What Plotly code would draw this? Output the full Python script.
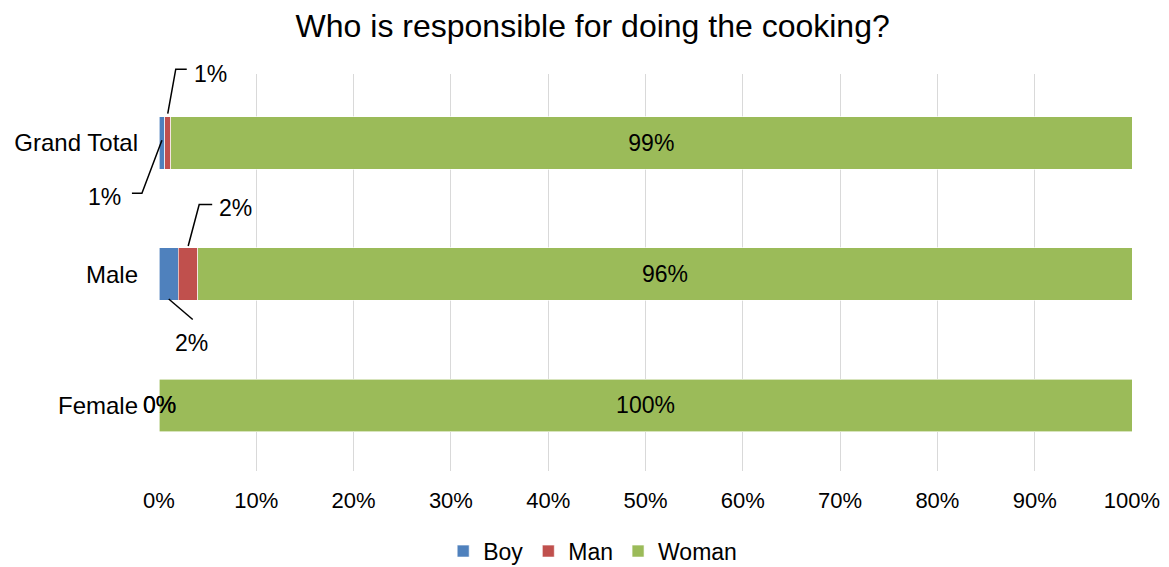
import plotly.graph_objects as go

# Share of respondents by who does the cooking
categories = ["Grand Total", "Male", "Female"]
boy = [0.006, 0.02, 0.0]
man = [0.006, 0.02, 0.0]
woman = [0.988, 0.96, 1.0]
tick_values = [i / 10 for i in range(11)]
tick_labels = [f"{i * 10}%" for i in range(11)]

colors = {"Boy": "#4F81BD", "Man": "#C0504D", "Woman": "#9BBB59"}
FONT = "Arial, 'Liberation Sans', sans-serif"

# plot area geometry (pixels)
W, H = 1169, 567
M_L, M_R, M_T, M_B = 159, 37, 74, 95.5
BAR_FRAC = 0.4
X_RANGE = [0, 1]
plot_h = H - M_T - M_B
half_bar = plot_h / len(categories) * BAR_FRAC / 2


def pct(v):
    return f"{round(v * 100):.0f}%"


def x_paper(v):
    return (v - X_RANGE[0]) / (X_RANGE[1] - X_RANGE[0])


def y_paper(cat):
    # categories run top to bottom, each occupying an equal band
    i = categories.index(cat)
    return 1 - (i + 0.5) / len(categories)


fig = go.Figure()
for name, vals in (("Boy", boy), ("Man", man), ("Woman", woman)):
    fig.add_trace(go.Bar(
        name=name, y=categories, x=vals, orientation="h", width=BAR_FRAC,
        marker=dict(color=colors[name], line=dict(color="white", width=0.6)),
        text=[pct(v) for v in vals] if name == "Woman" else None,
        textposition="inside", insidetextanchor="middle",
        textfont=dict(size=23, color="black", family=FONT),
        hoverinfo="skip",
    ))

# callout labels with elbow leader lines: (series, category) -> leader path, label offset
callouts = {
    ("Man", "Grand Total"): ([(0, half_bar), (8, 71), (19, 71)], (43, 69)),
    ("Boy", "Grand Total"): ([(0, 0), (-20, -53), (-30, -53)], (-57, -54)),
    ("Man", "Male"): ([(0, half_bar), (11, 68), (24, 68)], (47, 66)),
    ("Boy", "Male"): ([(0, -half_bar), (24, -47)], (23, -69)),
}
series = {"Boy": boy, "Man": man}

shapes, annotations = [], []
for (sname, cat), (path_pts, (lx, ly)) in callouts.items():
    i = categories.index(cat)
    start = 0.0 if sname == "Boy" else boy[i]
    val = series[sname][i]
    mid = start + val / 2
    path = "M" + " L".join(f"{px},{py}" for px, py in path_pts)
    shapes.append(dict(
        type="path", xref="paper", yref="paper", xsizemode="pixel", ysizemode="pixel",
        xanchor=x_paper(mid), yanchor=y_paper(cat), path=path,
        line=dict(color="black", width=1.5), layer="above",
    ))
    annotations.append(dict(
        x=mid, y=cat, xref="x", yref="y", text=pct(val), showarrow=False,
        xshift=lx, yshift=ly, font=dict(size=23, color="black", family=FONT),
    ))

# zero-width segments labelled at the axis origin
for i, cat in enumerate(categories):
    for sname in ("Boy", "Man"):
        if series[sname][i] == 0:
            start = 0.0 if sname == "Boy" else boy[i]
            annotations.append(dict(
                x=start, y=cat, xref="x", yref="y", text=pct(series[sname][i]),
                showarrow=False, font=dict(size=23, color="black", family=FONT),
            ))

fig.update_layout(
    width=W, height=H, barmode="stack",
    margin=dict(l=M_L, r=M_R, t=M_T, b=M_B, pad=0, autoexpand=False),
    paper_bgcolor="white", plot_bgcolor="white",
    font=dict(family=FONT, color="black", size=22),
    title=dict(text="Who is responsible for doing the cooking?", x=0.507, xref="container",
               xanchor="center", y=0.955, yref="container", yanchor="middle",
               font=dict(size=32, color="black", family=FONT)),
    xaxis=dict(range=X_RANGE, tickvals=tick_values, ticktext=tick_labels, automargin=False,
               showgrid=True, gridcolor="#D9D9D9", gridwidth=1.2, zeroline=False,
               showline=False, ticks="", tickfont=dict(size=22), ticklabelstandoff=14),
    yaxis=dict(categoryorder="array", categoryarray=categories, autorange="reversed",
               automargin=False,
               showgrid=False, zeroline=False, showline=False, ticks="",
               tickfont=dict(size=24), ticklabelstandoff=20),
    legend=dict(orientation="h", x=0.507, xref="container", xanchor="center",
                y=0.028, yref="container", yanchor="middle",
                font=dict(size=23, family=FONT), traceorder="normal",
                itemwidth=30, entrywidthmode="pixels"),
    shapes=shapes, annotations=annotations,
    showlegend=True,
)

fig.write_html("out.html")
